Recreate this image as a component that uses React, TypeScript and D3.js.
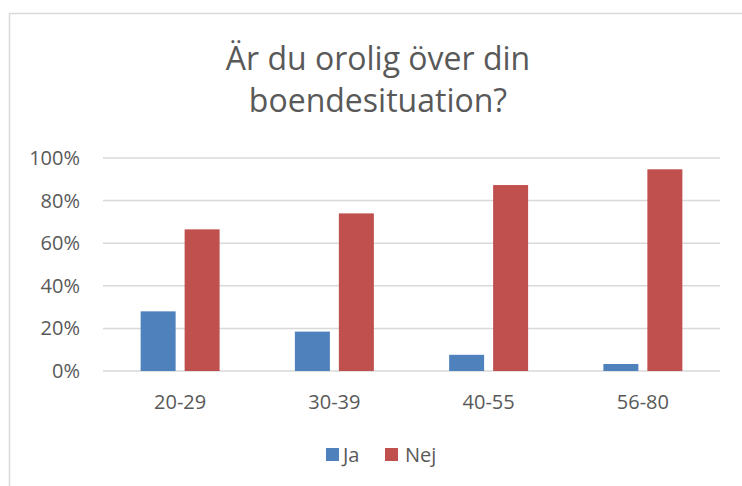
import React, { useRef, useEffect } from 'react';
import * as d3 from 'd3';

const categories = ['20-29', '30-39', '40-55', '56-80'];
const seriesNames = ['Ja', 'Nej'];
const jaValues = [0.28, 0.185, 0.076, 0.033];
const nejValues = [0.665, 0.74, 0.873, 0.947];
const yTicks = [0, 0.2, 0.4, 0.6, 0.8, 1];
const titleLines = ['Är du orolig över din', 'boendesituation?'];

const App = () => {
  const svgRef = useRef<SVGSVGElement>(null);

  useEffect(() => {
    const svg = d3.select(svgRef.current);
    svg.selectAll('*').remove();

    const width = 742;
    const height = 486;
    const font = "'Open Sans', sans-serif";
    const textColor = '#595959';
    const colors = { Ja: '#4f81bd', Nej: '#c0504d' };

    const data = categories.map((c, i) => ({ cat: c, Ja: jaValues[i], Nej: nejValues[i] }));

    // chart frame (runs off the right and bottom edge)
    svg.append('rect')
      .attr('x', 9.5).attr('y', 13.5)
      .attr('width', width + 20).attr('height', height + 20)
      .attr('fill', '#fff')
      .attr('stroke', '#d9d9d9')
      .attr('stroke-width', 1.5);

    // title
    svg.append('text')
      .attr('text-anchor', 'middle')
      .attr('font-family', font)
      .attr('font-size', 32)
      .attr('fill', textColor)
      .selectAll('tspan')
      .data(titleLines)
      .enter()
      .append('tspan')
      .attr('x', 378)
      .attr('y', (d, i) => 70 + i * 42)
      .text((d) => d);

    const x0 = d3.scaleBand()
      .domain(categories)
      .range([103, 720])
      .paddingInner(0.488)
      .paddingOuter(0.244);

    const x1 = d3.scaleBand()
      .domain(seriesNames)
      .range([0, x0.bandwidth()])
      .paddingInner(0.2045);

    const y = d3.scaleLinear().domain([0, 1]).range([371, 158]);

    // gridlines
    svg.append('g')
      .selectAll('line')
      .data(yTicks)
      .enter()
      .append('line')
      .attr('x1', 103).attr('x2', 720)
      .attr('y1', (d) => y(d)).attr('y2', (d) => y(d))
      .attr('stroke', '#d9d9d9')
      .attr('stroke-width', 1.5);

    // y tick labels
    svg.append('g')
      .selectAll('text')
      .data(yTicks)
      .enter()
      .append('text')
      .attr('x', 80)
      .attr('y', (d) => y(d) + 7)
      .attr('text-anchor', 'end')
      .attr('font-family', font)
      .attr('font-size', 20)
      .attr('fill', textColor)
      .text((d) => d3.format('.0%')(d));

    // bars
    const groups = svg.append('g')
      .selectAll('g')
      .data(data)
      .enter()
      .append('g')
      .attr('transform', (d) => `translate(${x0(d.cat)},0)`);

    groups.selectAll('rect')
      .data((d) => seriesNames.map((s) => ({ key: s, value: d[s] })))
      .enter()
      .append('rect')
      .attr('x', (d) => x1(d.key))
      .attr('y', (d) => y(d.value))
      .attr('width', x1.bandwidth())
      .attr('height', (d) => y(0) - y(d.value))
      .attr('fill', (d) => colors[d.key]);

    // category labels
    svg.append('g')
      .selectAll('text')
      .data(categories)
      .enter()
      .append('text')
      .attr('x', (d) => x0(d) + x0.bandwidth() / 2)
      .attr('y', 409)
      .attr('text-anchor', 'middle')
      .attr('font-family', font)
      .attr('font-size', 20)
      .attr('fill', textColor)
      .text((d) => d);

    // legend
    const legendX = [326, 385];
    const legend = svg.append('g')
      .selectAll('g')
      .data(seriesNames)
      .enter()
      .append('g')
      .attr('transform', (d, i) => `translate(${legendX[i]},448)`);

    legend.append('rect')
      .attr('width', 13).attr('height', 13)
      .attr('fill', (d) => colors[d]);

    legend.append('text')
      .attr('x', (d, i) => (i === 0 ? 17 : 20))
      .attr('y', 14)
      .attr('font-family', font)
      .attr('font-size', 20)
      .attr('fill', textColor)
      .text((d) => d);
  }, []);

  return (
    <svg
      ref={svgRef}
      width={742}
      height={486}
      style={{ position: 'absolute', left: 0, top: 0, background: '#fff' }}
    ></svg>
  );
};

export default App;
